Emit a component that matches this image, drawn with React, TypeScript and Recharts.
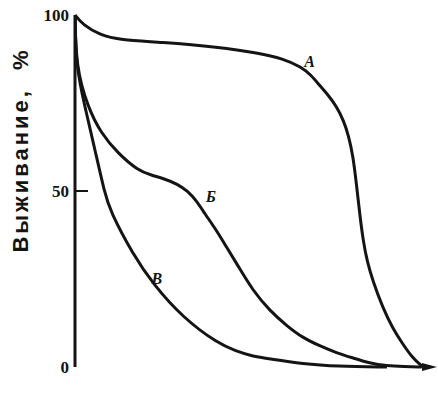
import React from 'react';
import { LineChart, Line, XAxis, YAxis, ReferenceDot } from 'recharts';

// survival curves, age is in % of max lifespan
const ageA = [0, 2.3, 7.2, 13, 24.5, 41.5, 53, 60, 65.4, 68, 70.6, 73, 75.5, 77.5, 79, 80.2, 81.2, 82.2, 83.2, 84.3, 85.9, 88.8, 91.6, 94.5, 97.4, 99.4, 100.3];
const survA = [100, 97.2, 94.3, 92.9, 92.3, 90.9, 89.2, 87.6, 85.2, 83, 80, 77.3, 74, 70, 65.5, 60, 52, 43, 35.5, 30, 24.5, 16.8, 11.1, 6.6, 2.6, 0.9, 0];

const ageB = [0, 0.3, 3.7, 7.5, 12.4, 18.2, 22, 26, 29.5, 32.5, 35, 37.5, 40.9, 43.8, 46.7, 51.3, 56.2, 61.1, 65.7, 70.6, 75.5, 80.1, 85, 89.9, 95, 100];
const survB = [100, 85.2, 73.8, 66.4, 60.7, 55.8, 54.5, 53.4, 52, 50, 47.3, 43.5, 38.7, 33.9, 29.3, 21.7, 16, 11.7, 8.3, 6, 4, 2.6, 1.1, 0.3, 0.1, 0];

const ageV = [0, 0.3, 2.9, 5.8, 8.6, 10.1, 16.7, 22.5, 31.1, 41.5, 46.4, 51, 56.2, 65.7, 75.5, 90];
const survV = [100, 85.2, 73.8, 61.5, 49.3, 44.4, 32, 23.6, 14, 6.5, 4.6, 3.1, 2.3, 0.9, 0.2, 0];

const yTicks = [0, 50, 100];

const labelNames = ['А', 'Б', 'В'];
const labelAges = [67.7, 39.2, 23.6];
const labelValues = [86.8, 48.6, 25.3];

const toPoints = (ages: number[], values: number[]) =>
  ages.map((age, i) => ({ age, value: values[i] }));

const INK = '#141414';

const YTick = (props: any) => {
  const { x, y, payload } = props;
  return (
    <g>
      <text
        x={x + 2}
        y={y}
        dy="0.35em"
        textAnchor="end"
        fontFamily="'Liberation Serif', serif"
        fontWeight="bold"
        fontSize={17}
        fill={INK}
      >
        {payload.value}
      </text>
      {payload.value === 50 && (
        <line x1={x + 8} y1={y} x2={x + 21} y2={y} stroke={INK} strokeWidth={2} />
      )}
    </g>
  );
};

const YLabel = ({ viewBox }: any) => {
  const cx = viewBox.x + 28;
  const cy = viewBox.y + viewBox.height / 2 - 41;
  return (
    <text
      x={cx}
      y={cy}
      transform={`rotate(-90, ${cx}, ${cy})`}
      textAnchor="middle"
      fontFamily="'Liberation Sans', Arial, sans-serif"
      fontWeight="bold"
      fontSize={22}
      letterSpacing={3}
      fill={INK}
      style={{ whiteSpace: 'pre' }}
    >
      {'Выживание,  %'}
    </text>
  );
};

const XLabel = ({ viewBox }: any) => (
  <text
    x={viewBox.x + viewBox.width + 4}
    y={viewBox.y + 35}
    textAnchor="end"
    fontFamily="'Liberation Sans', Arial, sans-serif"
    fontWeight="bold"
    fontSize={18}
    fill={INK}
  >
    Возраст
  </text>
);

const Arrow = (props: any) => {
  const { cx, cy } = props;
  return <path d={`M${cx - 10},${cy - 4} L${cx + 5},${cy} L${cx - 10},${cy + 4} Z`} fill={INK} />;
};

const App: React.FC = () => {
  return (
    <div style={{ position: 'absolute', left: 0, top: 0, width: 438, height: 406, background: '#fff' }}>
      <LineChart width={438} height={406} margin={{ top: 15, right: 6, bottom: 39, left: 0 }}>
        <XAxis
          type="number"
          dataKey="age"
          domain={[0, 103]}
          allowDataOverflow
          tick={false}
          tickLine={false}
          height={0}
          axisLine={{ stroke: INK, strokeWidth: 3 }}
          label={<XLabel />}
        />
        <YAxis
          type="number"
          dataKey="value"
          domain={[0, 100]}
          ticks={yTicks}
          interval={0}
          width={75}
          tickLine={false}
          tick={<YTick />}
          axisLine={{ stroke: INK, strokeWidth: 3 }}
          label={<YLabel />}
        />
        <Line data={toPoints(ageA, survA)} dataKey="value" type="basis" stroke={INK} strokeWidth={3} dot={false} isAnimationActive={false} />
        <Line data={toPoints(ageB, survB)} dataKey="value" type="basis" stroke={INK} strokeWidth={3} dot={false} isAnimationActive={false} />
        <Line data={toPoints(ageV, survV)} dataKey="value" type="basis" stroke={INK} strokeWidth={3} dot={false} isAnimationActive={false} />
        <ReferenceDot x={103} y={0} r={0} ifOverflow="visible" shape={<Arrow />} />
        {labelNames.map((name, i) => (
          <ReferenceDot
            key={name}
            x={labelAges[i]}
            y={labelValues[i]}
            r={0}
            ifOverflow="visible"
            shape={() => <g />}
            label={{
              value: name,
              position: 'center',
              fontFamily: "'Liberation Serif', serif",
              fontStyle: 'italic',
              fontWeight: 'bold',
              fontSize: 16,
              fill: INK,
            }}
          />
        ))}
      </LineChart>
    </div>
  );
};

export default App;
